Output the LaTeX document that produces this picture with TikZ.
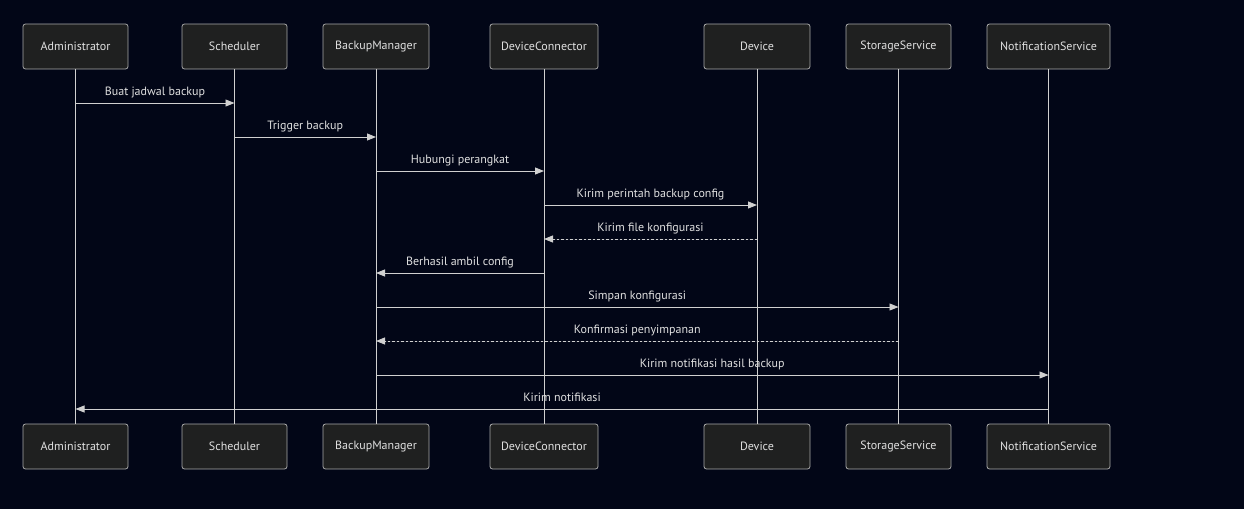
\documentclass[tikz,border=0pt]{standalone}
\usepackage{fontspec}
\setmainfont{PT Sans}
\usetikzlibrary{arrows.meta}
\definecolor{bg}{HTML}{020617}
\definecolor{boxfill}{HTML}{1F2020}
\definecolor{boxline}{HTML}{A8A8A8}
\definecolor{ln}{HTML}{D0D0D0}
\definecolor{txt}{HTML}{E0E0E0}
\begin{document}
\begin{tikzpicture}[x=1pt,y=-1pt,
  actor/.style={draw=boxline,fill=boxfill,rounded corners=2.5pt,line width=0.8pt,minimum height=45pt,inner sep=0pt,text=txt,font=\fontsize{12}{14}\selectfont},
  life/.style={draw=ln,line width=0.9pt},
  msg/.style={draw=ln,line width=0.9pt,-{Triangle[length=9pt,width=7pt]},fill=ln},
  reply/.style={msg,dash pattern=on 2.5pt off 2pt},
  lbl/.style={text=txt,font=\fontsize{12}{14}\selectfont,inner sep=0pt,anchor=base,yshift=8pt,fill=none}]
\fill[bg] (0,0) rectangle (1244,509);
\useasboundingbox (0,0) rectangle (1244,509);
% top actors
\node[actor,minimum width=105pt] (a1) at (75.5,46.5) {Administrator};
\node[actor,minimum width=105pt] (a2) at (234.5,46.5) {Scheduler};
\node[actor,minimum width=106pt] (a3) at (376,46.5) {BackupManager};
\node[actor,minimum width=108pt] (a4) at (544,46.5) {DeviceConnector};
\node[actor,minimum width=106pt] (a5) at (757,46.5) {Device};
\node[actor,minimum width=105pt] (a6) at (898.5,46.5) {StorageService};
\node[actor,minimum width=123pt] (a7) at (1048.5,46.5) {NotificationService};
% bottom actors
\node[actor,minimum width=105pt] (b1) at (75.5,446.5) {Administrator};
\node[actor,minimum width=105pt] (b2) at (234.5,446.5) {Scheduler};
\node[actor,minimum width=106pt] (b3) at (376,446.5) {BackupManager};
\node[actor,minimum width=108pt] (b4) at (544,446.5) {DeviceConnector};
\node[actor,minimum width=106pt] (b5) at (757,446.5) {Device};
\node[actor,minimum width=105pt] (b6) at (898.5,446.5) {StorageService};
\node[actor,minimum width=123pt] (b7) at (1048.5,446.5) {NotificationService};
% lifelines
\foreach \i in {1,...,7}{\draw[life] (a\i.south) -- (b\i.north);}
% message rows
\foreach \i/\y in {1/103,2/137,3/171,4/205,5/239,6/273,7/307,8/341,9/375,10/409}{
  \coordinate (y\i) at (0,\y);
}
\draw[msg] (a1 |- y1) -- node[lbl]{Buat jadwal backup} (a2 |- y1);
\draw[msg] (a2 |- y2) -- node[lbl]{Trigger backup} (a3 |- y2);
\draw[msg] (a3 |- y3) -- node[lbl]{Hubungi perangkat} (a4 |- y3);
\draw[msg] (a4 |- y4) -- node[lbl]{Kirim perintah backup config} (a5 |- y4);
\draw[reply] (a5 |- y5) -- node[lbl]{Kirim file konfigurasi} (a4 |- y5);
\draw[msg] (a4 |- y6) -- node[lbl]{Berhasil ambil config} (a3 |- y6);
\draw[msg] (a3 |- y7) -- node[lbl]{Simpan konfigurasi} (a6 |- y7);
\draw[reply] (a6 |- y8) -- node[lbl]{Konfirmasi penyimpanan} (a3 |- y8);
\draw[msg] (a3 |- y9) -- node[lbl]{Kirim notifikasi hasil backup} (a7 |- y9);
\draw[msg] (a7 |- y10) -- node[lbl]{Kirim notifikasi} (a1 |- y10);
\end{tikzpicture}
\end{document}
